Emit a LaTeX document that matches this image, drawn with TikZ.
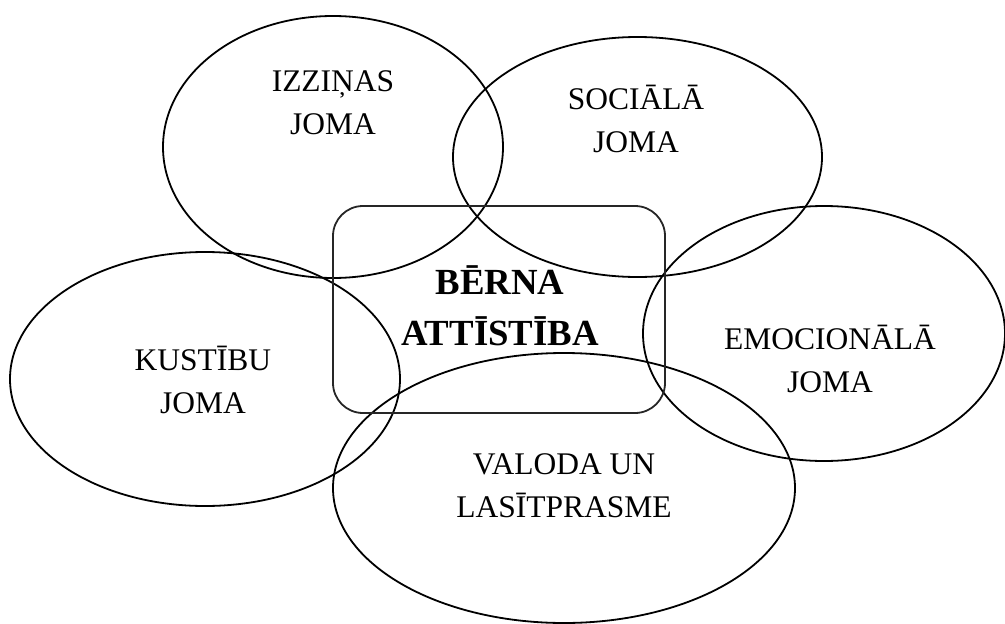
\documentclass[tikz,border=0pt]{standalone}
\usepackage{fontspec}
\setmainfont{Liberation Serif}
\usetikzlibrary{shapes.geometric}
\begin{document}
\begin{tikzpicture}[x=1pt,y=-1pt,
  areaell/.style={draw=black, line width=1.8pt, ellipse, inner sep=0pt},
  lbl/.style={align=center, anchor=base, font=\fontsize{31.5}{43}\selectfont},
  corebox/.style={draw=black!85, line width=1.8pt, rounded corners=30pt, inner sep=0pt}]
\useasboundingbox (0,0) rectangle (1005,624);
\node[areaell, minimum width=340pt, minimum height=262pt] (izz) at (333,147) {};
\node[areaell, minimum width=369pt, minimum height=240pt] (soc) at (637.5,157) {};
\node[areaell, minimum width=390pt, minimum height=254pt] (kus) at (205,379) {};
\node[areaell, minimum width=362pt, minimum height=255pt] (emo) at (824,333.5) {};
\node[areaell, minimum width=462pt, minimum height=270pt] (val) at (564,488) {};
\node[corebox, minimum width=332pt, minimum height=207pt] (ber) at (499,309.5) {};
\node[lbl] (tizz) at (333,134) {IZZIŅAS\\JOMA};
\node[lbl] (tsoc) at (636,152) {SOCIĀLĀ\\JOMA};
\node[lbl] (tkus) at (203,413) {KUSTĪBU\\JOMA};
\node[lbl] (temo) at (830,392) {EMOCIONĀLĀ\\JOMA};
\node[lbl] (tval) at (564,517) {VALODA UN\\LASĪTPRASME};
\node[align=center, anchor=base, font=\fontsize{36.8}{51}\selectfont\bfseries] (tber) at (500,345) {BĒRNA\\ATTĪSTĪBA};
\end{tikzpicture}
\end{document}
